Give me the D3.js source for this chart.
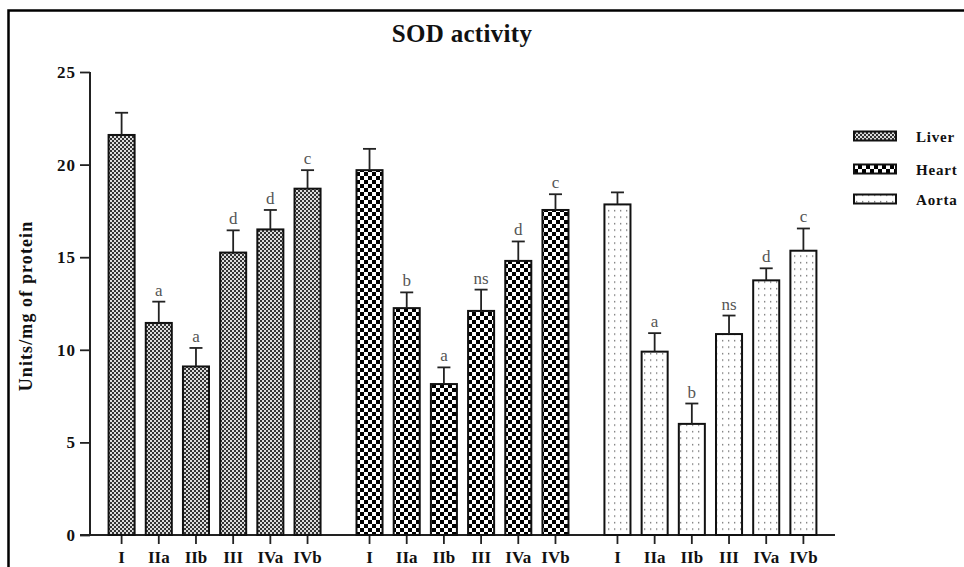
<!DOCTYPE html>
<html>
<head>
<meta charset="utf-8">
<script src="https://cdn.jsdelivr.net/npm/d3@7"></script>
<style>
  body { margin: 0; background: #fff; }
  svg { display: block; }
</style>
</head>
<body>
<svg id="chart" width="964" height="567"></svg>
<script>
// groups on the x axis, tissues as clusters
const groups = ["I", "IIa", "IIb", "III", "IVa", "IVb"];
const tissues = ["Liver", "Heart", "Aorta"];

const liverMean = [21.6, 11.45, 9.1, 15.25, 16.5, 18.7];
const liverErr  = [1.2, 1.15, 1.0, 1.2, 1.05, 1.0];
const liverSig  = ["", "a", "a", "d", "d", "c"];

const heartMean = [19.7, 12.25, 8.15, 12.1, 14.8, 17.55];
const heartErr  = [1.15, 0.85, 0.9, 1.15, 1.05, 0.85];
const heartSig  = ["", "b", "a", "ns", "d", "c"];

const aortaMean = [17.85, 9.9, 6.0, 10.85, 13.75, 15.35];
const aortaErr  = [0.65, 1.0, 1.1, 1.0, 0.65, 1.2];
const aortaSig  = ["", "a", "b", "ns", "d", "c"];

const yTicks = [0, 5, 10, 15, 20, 25];

const means = { Liver: liverMean, Heart: heartMean, Aorta: aortaMean };
const errs  = { Liver: liverErr,  Heart: heartErr,  Aorta: aortaErr };
const sigs  = { Liver: liverSig,  Heart: heartSig,  Aorta: aortaSig };

const data = tissues.flatMap(t => groups.map((g, i) => ({
  tissue: t, group: g, value: means[t][i], err: errs[t][i], sig: sigs[t][i]
})));

const serif = "'Liberation Serif', 'Times New Roman', serif";
const ink = "#222";

const svg = d3.select("#chart");

// patterns, one per tissue
const defs = svg.append("defs");
const liverPat = defs.append("pattern").attr("id", "pat-Liver")
  .attr("patternUnits", "userSpaceOnUse").attr("width", 4).attr("height", 4);
liverPat.append("rect").attr("width", 4).attr("height", 4).attr("fill", "#dcdcdc");
liverPat.append("rect").attr("width", 2).attr("height", 2).attr("fill", "#333");
liverPat.append("rect").attr("x", 2).attr("y", 2).attr("width", 2).attr("height", 2).attr("fill", "#333");

const heartPat = defs.append("pattern").attr("id", "pat-Heart")
  .attr("patternUnits", "userSpaceOnUse").attr("width", 8).attr("height", 8);
heartPat.append("rect").attr("width", 8).attr("height", 8).attr("fill", "#fff");
heartPat.append("rect").attr("width", 4).attr("height", 4).attr("fill", "#000");
heartPat.append("rect").attr("x", 4).attr("y", 4).attr("width", 4).attr("height", 4).attr("fill", "#000");

const aortaPat = defs.append("pattern").attr("id", "pat-Aorta")
  .attr("patternUnits", "userSpaceOnUse").attr("width", 6).attr("height", 6.5);
aortaPat.append("rect").attr("width", 6).attr("height", 6.5).attr("fill", "#fff");
aortaPat.append("rect").attr("x", 2).attr("y", 2).attr("width", 1.3).attr("height", 1.3).attr("fill", "#666");

// frame (cut off at right and bottom, as in the original)
svg.append("rect")
  .attr("x", 8.5).attr("y", 10.5).attr("width", 1200).attr("height", 1200)
  .attr("fill", "none").attr("stroke", "#000").attr("stroke-width", 2.5);

// scales
const y = d3.scaleLinear().domain([0, 25]).range([535, 72]);
const x0 = d3.scaleBand().domain(tissues).range([103, 822]).paddingInner(0.1).paddingOuter(0);
const x1 = d3.scaleBand().domain(groups).range([0, x0.bandwidth()]).paddingInner(0.3).paddingOuter(0.15);

// title
svg.append("text")
  .attr("x", 462).attr("y", 42)
  .attr("text-anchor", "middle")
  .attr("font-family", serif).attr("font-weight", "bold").attr("font-size", 25)
  .attr("letter-spacing", 0.3)
  .attr("fill", "#111")
  .text("SOD activity");

// y axis
const yAxis = svg.append("g")
  .attr("transform", "translate(90,0)")
  .call(d3.axisLeft(y).tickValues(yTicks).tickSize(10).tickPadding(4).tickFormat(d3.format("d")));
yAxis.select(".domain").remove();
yAxis.selectAll(".tick line").attr("stroke", ink).attr("stroke-width", 1.8);
yAxis.selectAll(".tick text")
  .attr("font-family", serif).attr("font-weight", "bold").attr("font-size", 17)
  .attr("letter-spacing", 1).attr("fill", "#111");
svg.append("line")
  .attr("x1", 90).attr("x2", 90).attr("y1", y(25)).attr("y2", y(0))
  .attr("stroke", ink).attr("stroke-width", 2);

svg.append("text")
  .attr("transform", "translate(32,306) rotate(-90)")
  .attr("text-anchor", "middle")
  .attr("font-family", serif).attr("font-weight", "bold").attr("font-size", 18)
  .attr("letter-spacing", 1.1)
  .attr("fill", "#111")
  .text("Units/mg of protein");

// x axis: one line, tick groups per tissue
svg.append("line")
  .attr("x1", 80).attr("x2", 835).attr("y1", y(0)).attr("y2", y(0))
  .attr("stroke", ink).attr("stroke-width", 2);

tissues.forEach(t => {
  const ax = svg.append("g")
    .attr("transform", `translate(${x0(t)},${y(0)})`)
    .call(d3.axisBottom(x1).tickSize(9).tickPadding(7));
  ax.select(".domain").remove();
  ax.selectAll(".tick line").attr("stroke", ink).attr("stroke-width", 1.8);
  ax.selectAll(".tick text")
    .attr("font-family", serif).attr("font-weight", "bold").attr("font-size", 17)
    .attr("fill", "#111");
});

// bars
const bx = d => x0(d.tissue) + x1(d.group);
const cx = d => bx(d) + x1.bandwidth() / 2;

const bars = svg.append("g");
bars.selectAll("rect")
  .data(data)
  .join("rect")
  .attr("x", bx)
  .attr("y", d => y(d.value))
  .attr("width", x1.bandwidth())
  .attr("height", d => y(0) - y(d.value))
  .attr("fill", d => `url(#pat-${d.tissue})`)
  .attr("stroke", "#111")
  .attr("stroke-width", 2);

// error bars (upper only)
const errG = svg.append("g").attr("stroke", ink).attr("stroke-width", 1.8);
errG.selectAll("line.v")
  .data(data)
  .join("line").attr("class", "v")
  .attr("x1", cx).attr("x2", cx)
  .attr("y1", d => y(d.value)).attr("y2", d => y(d.value + d.err));
errG.selectAll("line.h")
  .data(data)
  .join("line").attr("class", "h")
  .attr("x1", d => cx(d) - 6.5).attr("x2", d => cx(d) + 6.5)
  .attr("y1", d => y(d.value + d.err)).attr("y2", d => y(d.value + d.err));

// significance letters
svg.append("g")
  .selectAll("text")
  .data(data.filter(d => d.sig))
  .join("text")
  .attr("x", cx)
  .attr("y", d => y(d.value + d.err) - 6)
  .attr("text-anchor", "middle")
  .attr("font-family", serif).attr("font-size", 17)
  .attr("fill", "#555")
  .text(d => d.sig);

// legend
const legend = svg.append("g")
  .selectAll("g")
  .data(tissues)
  .join("g")
  .attr("transform", (d, i) => `translate(854,${[136, 169, 199][i]})`);
legend.append("rect")
  .attr("x", 0).attr("y", -4.5).attr("width", 42).attr("height", 9)
  .attr("fill", d => `url(#pat-${d})`)
  .attr("stroke", "#111").attr("stroke-width", 2);
legend.append("text")
  .attr("x", 62).attr("y", 6)
  .attr("font-family", serif).attr("font-weight", "bold").attr("font-size", 15)
  .attr("letter-spacing", 0.8)
  .attr("fill", "#111")
  .text(d => d);
</script>
</body>
</html>
